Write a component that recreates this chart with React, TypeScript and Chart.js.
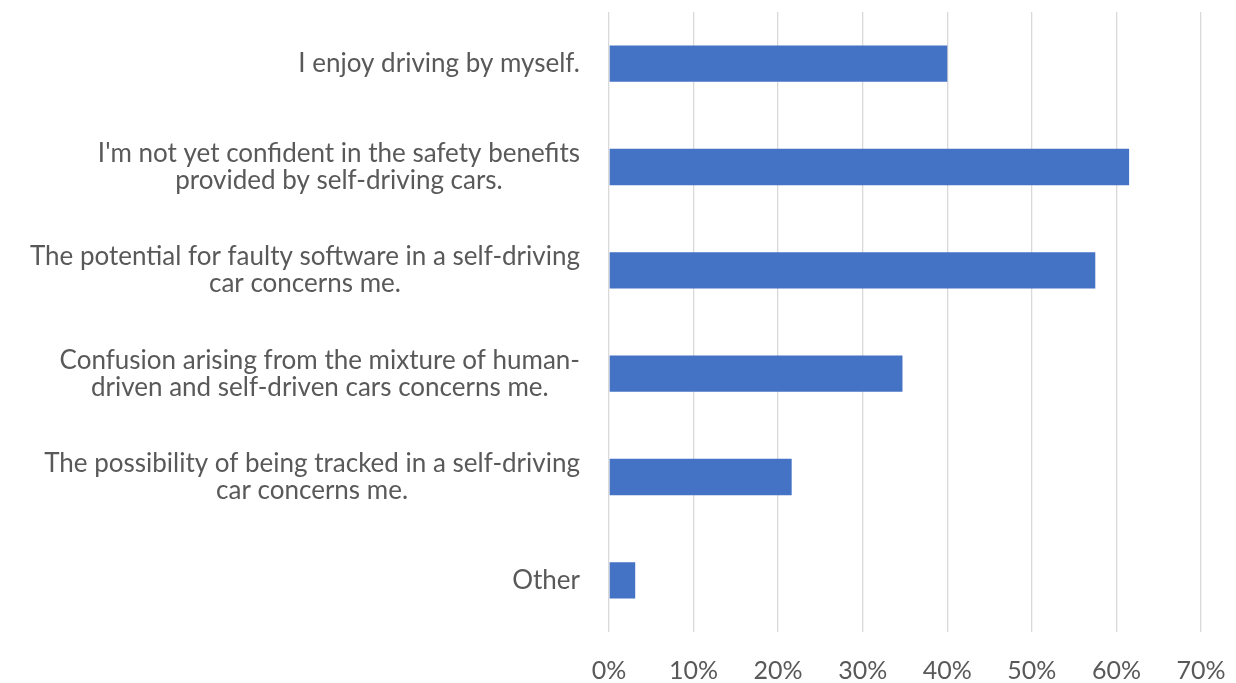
import React, { useEffect, useRef } from "react";
import { Chart, registerables } from "chart.js";

Chart.register(...registerables);

const categories: string[][] = [
  ["I enjoy driving by myself."],
  ["I'm not yet confident in the safety benefits", "provided by self-driving cars."],
  ["The potential for faulty software in a self-driving", "car concerns me."],
  ["Confusion arising from the mixture of human-", "driven and self-driven cars concerns me."],
  ["The possibility of being tracked in a self-driving", "car concerns me."],
  ["Other"],
];
const values: number[] = [40, 61.5, 57.5, 34.7, 21.6, 3.1];
const xTicks: number[] = [0, 10, 20, 30, 40, 50, 60, 70];

const FONT = "Lato, 'Open Sans', sans-serif";
const TEXT_COLOR = "#595959";

const labelPlugin = {
  id: "centeredYLabels",
  afterDraw(chart: any) {
    const { ctx, scales } = chart;
    const y = scales.y;
    const x = scales.x;
    const right = x.left - 29;
    const lineH = 27;
    ctx.save();
    ctx.font = `26px ${FONT}`;
    ctx.fillStyle = TEXT_COLOR;
    ctx.textBaseline = "middle";
    ctx.textAlign = "center";
    categories.forEach((lines, i) => {
      const cy = y.getPixelForValue(i);
      const w = Math.max(...lines.map((l) => ctx.measureText(l).width));
      const cx = right - w / 2;
      const startY = cy - ((lines.length - 1) * lineH) / 2;
      lines.forEach((l, j) => ctx.fillText(l, cx, startY + j * lineH));
    });
    ctx.restore();
  },
};

export default function App() {
  const ref = useRef<HTMLCanvasElement | null>(null);
  useEffect(() => {
    if (!ref.current) return;
    const chart = new Chart(ref.current, {
      type: "bar",
      data: {
        labels: categories.map((c) => c.join(" ")),
        datasets: [
          {
            data: values,
            backgroundColor: "#4472C4",
            borderWidth: 0,
            categoryPercentage: 1,
            barPercentage: 0.352,
          },
        ],
      },
      options: {
        indexAxis: "y",
        animation: false,
        responsive: false,
        maintainAspectRatio: false,
        layout: { padding: { left: 609, top: 12, right: 35, bottom: 0 } },
        plugins: { legend: { display: false }, tooltip: { enabled: false } },
        scales: {
          x: {
            min: 0,
            max: 70,
            afterBuildTicks: (scale: any) => {
              scale.ticks = xTicks.map((v) => ({ value: v }));
            },
            afterFit: (scale: any) => {
              scale.height = 51;
              scale.paddingLeft = 0;
              scale.paddingRight = 0;
            },
            grid: { color: "#d9d9d9", lineWidth: 1.3, drawTicks: false },
            border: { display: false },
            ticks: {
              padding: 24,
              color: TEXT_COLOR,
              font: { family: FONT, size: 25 },
              callback: (v: any) => `${v}%`,
            },
          },
          y: {
            display: false,
          },
        },
      },
      plugins: [labelPlugin],
    } as any);
    return () => chart.destroy();
  }, []);
  return (
    <div style={{ position: "fixed", left: 0, top: 0, width: 1236, height: 683, background: "#fff" }}>
      <canvas ref={ref} width={1236} height={683} style={{ width: 1236, height: 683 }} />
    </div>
  );
}
